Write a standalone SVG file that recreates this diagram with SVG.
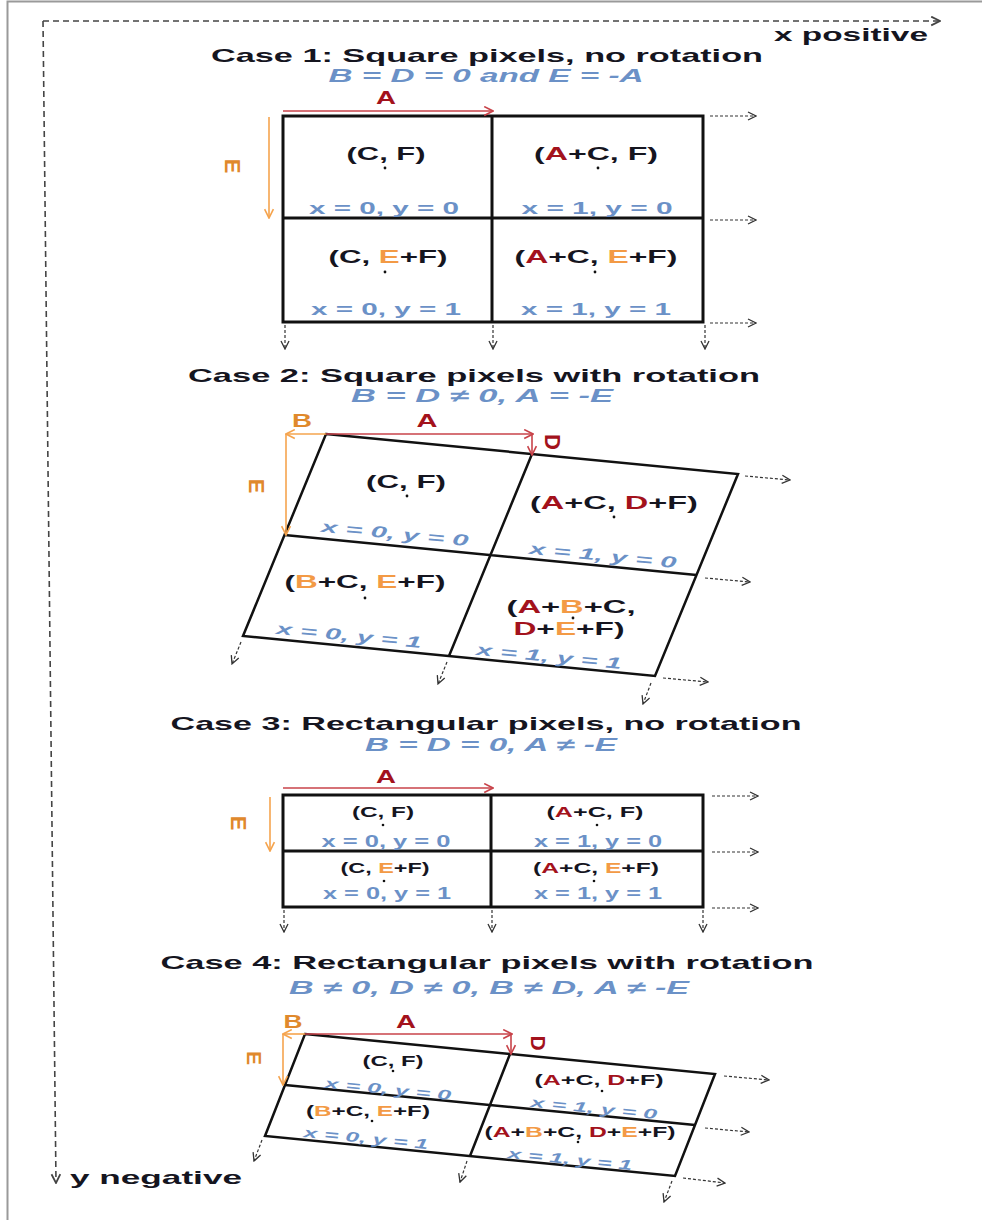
<svg xmlns="http://www.w3.org/2000/svg" width="982" height="1220" viewBox="0 0 982 1220">
<style>
.t{font-family:"Liberation Sans",Arial,sans-serif;font-weight:bold;fill:#15151f;text-anchor:middle}
.ti{font-size:19px}
.sub{font-size:18px;font-style:italic;fill:#6b91c7}
.c{font-size:18px}
.s{font-size:14px}
.bl{font-size:16px;fill:#6b91c7}
.bs{font-size:14px;fill:#6b91c7}
.it{font-style:italic}
.r{fill:#a3121c}
.o{fill:#f39a45}
.lo{fill:#e0892c}
.lr{fill:#a3121c}
.g{fill:none;stroke:#111;stroke-width:3}
.g2{fill:none;stroke:#111;stroke-width:2.5;stroke-linejoin:miter}
.d{fill:none;stroke:#333;stroke-width:1.2;stroke-dasharray:3 2;marker-end:url(#mk)}
.ax{fill:none;stroke:#444;stroke-width:1.6;stroke-dasharray:6 4;marker-end:url(#mka)}
.ar{fill:none;stroke:#c8434a;stroke-width:1.6;marker-end:url(#mr)}
.ao{fill:none;stroke:#f5a44e;stroke-width:1.6;marker-end:url(#mo)}
.dot{fill:#111}
</style>
<defs>
<marker id="mk" viewBox="0 0 10 10" refX="9" refY="5" markerWidth="10" markerHeight="10" markerUnits="userSpaceOnUse" orient="auto"><path d="M1,1 L9,5 L1,9" fill="none" stroke="#333" stroke-width="1.3"/></marker>
<marker id="mka" viewBox="0 0 10 10" refX="9" refY="5" markerWidth="11" markerHeight="11" markerUnits="userSpaceOnUse" orient="auto"><path d="M1,1 L9,5 L1,9" fill="none" stroke="#444" stroke-width="1.6"/></marker>
<marker id="mr" viewBox="0 0 10 10" refX="9" refY="5" markerWidth="11" markerHeight="11" markerUnits="userSpaceOnUse" orient="auto"><path d="M1,1 L9,5 L1,9" fill="none" stroke="#c8434a" stroke-width="1.5"/></marker>
<marker id="mo" viewBox="0 0 10 10" refX="9" refY="5" markerWidth="11" markerHeight="11" markerUnits="userSpaceOnUse" orient="auto"><path d="M1,1 L9,5 L1,9" fill="none" stroke="#f5a44e" stroke-width="1.5"/></marker>
</defs>
<rect x="0" y="0" width="982" height="1220" fill="#fff"/>
<path d="M7.5,1220 V1.5 H982" fill="none" stroke="#9a9a9a" stroke-width="2"/>

<g id="axes">
<path class="ax" d="M43,21 H940"/>
<path class="ax" d="M43,21 L56,1183"/>
<text class="t" x="851" y="41" font-size="19" textLength="154" lengthAdjust="spacingAndGlyphs">x positive</text>
<text class="t" x="156" y="1184" font-size="19" textLength="172" lengthAdjust="spacingAndGlyphs">y negative</text>
</g>

<g id="titles">
<text class="t ti" x="487" y="62" textLength="552" lengthAdjust="spacingAndGlyphs">Case 1: Square pixels, no rotation</text>
<text class="t sub" x="486" y="82" textLength="315" lengthAdjust="spacingAndGlyphs">B = D = 0 and E = -A</text>
<text class="t ti" x="474" y="382" textLength="572" lengthAdjust="spacingAndGlyphs">Case 2: Square pixels with rotation</text>
<text class="t sub" x="482" y="402" textLength="262" lengthAdjust="spacingAndGlyphs">B = D ≠ 0, A = -E</text>
<text class="t ti" x="486" y="730" textLength="631" lengthAdjust="spacingAndGlyphs">Case 3: Rectangular pixels, no rotation</text>
<text class="t sub" x="491" y="751" textLength="252" lengthAdjust="spacingAndGlyphs">B = D = 0, A ≠ -E</text>
<text class="t ti" x="487" y="969" textLength="653" lengthAdjust="spacingAndGlyphs">Case 4: Rectangular pixels with rotation</text>
<text class="t sub" x="489" y="994" textLength="400" lengthAdjust="spacingAndGlyphs">B ≠ 0, D ≠ 0, B ≠ D, A ≠ -E</text>
</g>

<!-- Case 1 -->
<g id="case1-grid">
<rect class="g" x="283" y="116" width="420" height="206"/>
<path class="g" d="M492,116 V322 M283,218 H703"/>
</g>
<g id="case1-labels">
<text class="t lr" x="386" y="104" font-size="19" textLength="20" lengthAdjust="spacingAndGlyphs">A</text>
<text class="t lo" font-size="22" transform="translate(233,166) rotate(90)" x="0" y="8">E</text>
</g>
<g id="case1-cell00">
<text class="t c" x="386" y="160" textLength="79" lengthAdjust="spacingAndGlyphs">(C, F)</text>
<circle class="dot" cx="385" cy="168" r="1.4"/>
<text class="t bl" x="384" y="214" textLength="150" lengthAdjust="spacingAndGlyphs">x = 0, y = 0</text>
</g>
<g id="case1-cell10">
<text class="t c" x="596" y="160" textLength="124" lengthAdjust="spacingAndGlyphs">(<tspan class="r">A</tspan>+C, F)</text>
<circle class="dot" cx="598" cy="168" r="1.4"/>
<text class="t bl" x="597" y="214" textLength="151" lengthAdjust="spacingAndGlyphs">x = 1, y = 0</text>
</g>
<g id="case1-cell01">
<text class="t c" x="388" y="263" textLength="119" lengthAdjust="spacingAndGlyphs">(C, <tspan class="o">E</tspan>+F)</text>
<circle class="dot" cx="385" cy="272" r="1.4"/>
<text class="t bl" x="386" y="315" textLength="150" lengthAdjust="spacingAndGlyphs">x = 0, y = 1</text>
</g>
<g id="case1-cell11">
<text class="t c" x="596" y="263" textLength="163" lengthAdjust="spacingAndGlyphs">(<tspan class="r">A</tspan>+C, <tspan class="o">E</tspan>+F)</text>
<circle class="dot" cx="595" cy="272" r="1.4"/>
<text class="t bl" x="596" y="315" textLength="150" lengthAdjust="spacingAndGlyphs">x = 1, y = 1</text>
</g>

<!-- Case 2 -->
<g id="case2-grid">
<path class="g2" d="M326,434 L738,474 L655,676 L243,636 Z"/>
<path class="g2" d="M532,454 L449,656 M284.5,535 L696.5,575"/>
</g>
<g id="case2-labels">
<text class="t lo" x="302" y="427" font-size="19" textLength="20" lengthAdjust="spacingAndGlyphs">B</text>
<text class="t lr" x="427" y="427" font-size="19" textLength="21" lengthAdjust="spacingAndGlyphs">A</text>
<text class="t lr" font-size="22" transform="translate(553,442) rotate(90)" x="0" y="8">D</text>
<text class="t lo" font-size="22" transform="translate(257,486) rotate(90)" x="0" y="8">E</text>
</g>
<g id="case2-cell00">
<text class="t c" x="406" y="488" textLength="80" lengthAdjust="spacingAndGlyphs">(C, F)</text>
<circle class="dot" cx="407" cy="496" r="1.4"/>
<text class="t bl it" transform="translate(395,533) rotate(5.6)" x="0" y="6" textLength="148" lengthAdjust="spacingAndGlyphs">x = 0, y = 0</text>
</g>
<g id="case2-cell10">
<text class="t c" x="614" y="509" textLength="168" lengthAdjust="spacingAndGlyphs">(<tspan class="r">A</tspan>+C, <tspan class="r">D</tspan>+F)</text>
<circle class="dot" cx="614" cy="517" r="1.4"/>
<text class="t bl it" transform="translate(603,555) rotate(5.6)" x="0" y="6" textLength="148" lengthAdjust="spacingAndGlyphs">x = 1, y = 0</text>
</g>
<g id="case2-cell01">
<text class="t c" x="365" y="588" textLength="161" lengthAdjust="spacingAndGlyphs">(<tspan class="o">B</tspan>+C, <tspan class="o">E</tspan>+F)</text>
<circle class="dot" cx="365" cy="598" r="1.4"/>
<text class="t bl it" transform="translate(349,635) rotate(5.6)" x="0" y="6" textLength="146" lengthAdjust="spacingAndGlyphs">x = 0, y = 1</text>
</g>
<g id="case2-cell11">
<text class="t c" x="571" y="613" textLength="129" lengthAdjust="spacingAndGlyphs">(<tspan class="r">A</tspan>+<tspan class="o">B</tspan>+C,</text>
<text class="t c" x="569" y="635" textLength="111" lengthAdjust="spacingAndGlyphs"><tspan class="r">D</tspan>+<tspan class="o">E</tspan>+F)</text>
<circle class="dot" cx="573" cy="618" r="1.4"/>
<text class="t bl it" transform="translate(549,656) rotate(5.6)" x="0" y="6" textLength="146" lengthAdjust="spacingAndGlyphs">x = 1, y = 1</text>
</g>

<!-- Case 3 -->
<g id="case3-grid">
<rect class="g" x="283" y="795" width="420" height="112"/>
<path class="g" d="M491,795 V907 M283,851 H703"/>
</g>
<g id="case3-labels">
<text class="t lr" x="386" y="783" font-size="19" textLength="20" lengthAdjust="spacingAndGlyphs">A</text>
<text class="t lo" font-size="22" transform="translate(239,823) rotate(90)" x="0" y="8">E</text>
</g>
<g id="case3-cell00">
<text class="t s" x="383" y="817" textLength="62" lengthAdjust="spacingAndGlyphs">(C, F)</text>
<circle class="dot" cx="383" cy="825" r="1.3"/>
<text class="t bl" x="386" y="847" font-size="15" textLength="129" lengthAdjust="spacingAndGlyphs">x = 0, y = 0</text>
</g>
<g id="case3-cell10">
<text class="t s" x="595" y="817" textLength="97" lengthAdjust="spacingAndGlyphs">(<tspan class="r">A</tspan>+C, F)</text>
<circle class="dot" cx="597" cy="825" r="1.3"/>
<text class="t bl" x="598" y="847" font-size="15" textLength="128" lengthAdjust="spacingAndGlyphs">x = 1, y = 0</text>
</g>
<g id="case3-cell01">
<text class="t s" x="385" y="873" textLength="89" lengthAdjust="spacingAndGlyphs">(C, <tspan class="o">E</tspan>+F)</text>
<circle class="dot" cx="384" cy="881" r="1.3"/>
<text class="t bl" x="387" y="899" font-size="15" textLength="128" lengthAdjust="spacingAndGlyphs">x = 0, y = 1</text>
</g>
<g id="case3-cell11">
<text class="t s" x="596" y="873" textLength="126" lengthAdjust="spacingAndGlyphs">(<tspan class="r">A</tspan>+C, <tspan class="o">E</tspan>+F)</text>
<circle class="dot" cx="594" cy="881" r="1.3"/>
<text class="t bl" x="598" y="899" font-size="15" textLength="128" lengthAdjust="spacingAndGlyphs">x = 1, y = 1</text>
</g>

<!-- Case 4 -->
<g id="case4-grid">
<path class="g2" d="M305,1034 L715,1074 L675,1176 L265,1136 Z"/>
<path class="g2" d="M510,1054 L470,1156 M285,1085 L695,1125"/>
</g>
<g id="case4-labels">
<text class="t lo" x="293" y="1028" font-size="18" textLength="19" lengthAdjust="spacingAndGlyphs">B</text>
<text class="t lr" x="406" y="1028" font-size="18" textLength="20" lengthAdjust="spacingAndGlyphs">A</text>
<text class="t lr" font-size="21" transform="translate(538,1043) rotate(90)" x="0" y="7.5">D</text>
<text class="t lo" font-size="21" transform="translate(254,1058) rotate(90)" x="0" y="7.5">E</text>
</g>
<g id="case4-cell00">
<text class="t s" x="393" y="1066" textLength="61" lengthAdjust="spacingAndGlyphs">(C, F)</text>
<circle class="dot" cx="393" cy="1071" r="1.3"/>
<text class="t bs it" transform="translate(388,1089) rotate(5.6)" x="0" y="5" textLength="127" lengthAdjust="spacingAndGlyphs">x = 0, y = 0</text>
</g>
<g id="case4-cell10">
<text class="t s" x="599" y="1085" textLength="129" lengthAdjust="spacingAndGlyphs">(<tspan class="r">A</tspan>+C, <tspan class="r">D</tspan>+F)</text>
<circle class="dot" cx="602" cy="1091" r="1.3"/>
<text class="t bs it" transform="translate(594,1108) rotate(5.6)" x="0" y="5" textLength="127" lengthAdjust="spacingAndGlyphs">x = 1, y = 0</text>
</g>
<g id="case4-cell01">
<text class="t s" x="368" y="1116" textLength="124" lengthAdjust="spacingAndGlyphs">(<tspan class="o">B</tspan>+C, <tspan class="o">E</tspan>+F)</text>
<circle class="dot" cx="372" cy="1121" r="1.3"/>
<text class="t bs it" transform="translate(366,1138) rotate(5.6)" x="0" y="5" textLength="125" lengthAdjust="spacingAndGlyphs">x = 0, y = 1</text>
</g>
<g id="case4-cell11">
<text class="t s" x="580" y="1137" textLength="191" lengthAdjust="spacingAndGlyphs">(<tspan class="r">A</tspan>+<tspan class="o">B</tspan>+C, <tspan class="r">D</tspan>+<tspan class="o">E</tspan>+F)</text>
<circle class="dot" cx="578" cy="1142" r="1.3"/>
<text class="t bs it" transform="translate(570,1159) rotate(5.6)" x="0" y="5" textLength="125" lengthAdjust="spacingAndGlyphs">x = 1, y = 1</text>
</g>

<g id="connectors">
<path class="ar" d="M283,111 H493"/>
<path class="ao" d="M269,117 V218"/>
<path class="d" d="M710,116 H756"/>
<path class="d" d="M710,220 H756"/>
<path class="d" d="M710,323 H756"/>
<path class="d" d="M285,325 V349"/>
<path class="d" d="M493,325 V349"/>
<path class="d" d="M705,325 V349"/>
<path class="ao" d="M326,434 H286"/>
<path class="ao" d="M286,434 V535"/>
<path class="ar" d="M326,434 H533"/>
<path class="ar" d="M532,434 V455"/>
<path class="d" d="M745,476 L790,480"/>
<path class="d" d="M705,578 L750,582"/>
<path class="d" d="M663,678 L708,682"/>
<path class="d" d="M241,642 L232,664"/>
<path class="d" d="M447,662 L438,684"/>
<path class="d" d="M651,683 L643,704"/>
<path class="ar" d="M283,788 H493"/>
<path class="ao" d="M270,797 V851"/>
<path class="d" d="M712,796 H758"/>
<path class="d" d="M712,852 H758"/>
<path class="d" d="M712,908 H758"/>
<path class="d" d="M284,910 V932"/>
<path class="d" d="M492,910 V932"/>
<path class="d" d="M703,910 V932"/>
<path class="ao" d="M305,1034 H283"/>
<path class="ao" d="M283,1034 V1085"/>
<path class="ar" d="M305,1034 H512"/>
<path class="ar" d="M511,1034 V1054"/>
<path class="d" d="M724,1076 L769,1080"/>
<path class="d" d="M705,1128 L749,1132"/>
<path class="d" d="M683,1178 L725,1183"/>
<path class="d" d="M262,1140 L254,1161"/>
<path class="d" d="M467,1161 L460,1182"/>
<path class="d" d="M672,1181 L664,1202"/>
</g>
</svg>
